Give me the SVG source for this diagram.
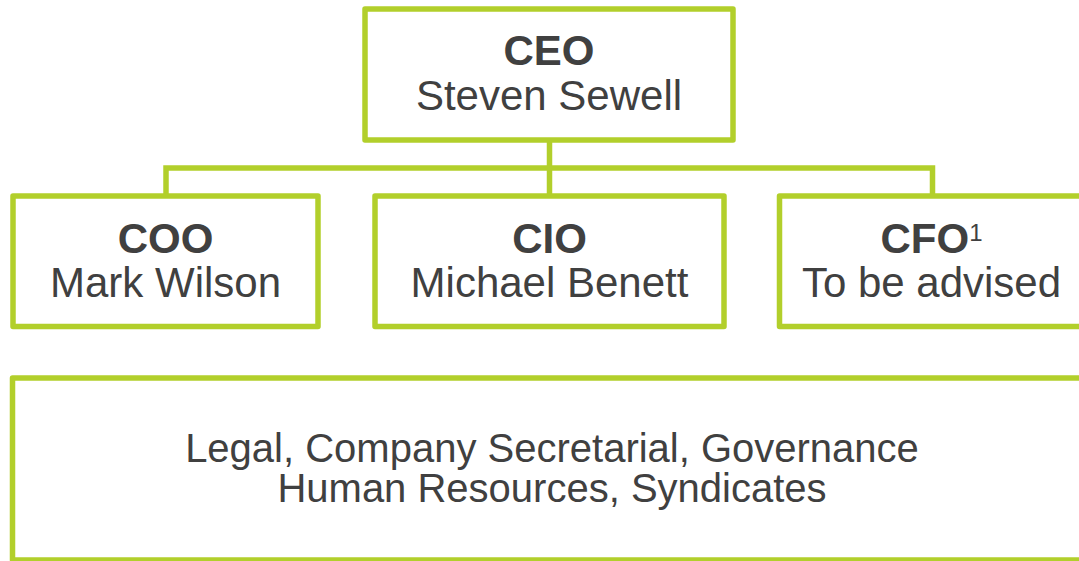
<svg xmlns="http://www.w3.org/2000/svg" width="1079" height="561" viewBox="0 0 1079 561">
  <style>
    .box { fill: #ffffff; stroke: #b2cf2b; stroke-width: 5.5; stroke-linejoin: round; }
    .link { fill: none; stroke: #b2cf2b; stroke-width: 5.5; }
    .t { font-family: "Liberation Sans", Arial, sans-serif; fill: #404040; text-anchor: middle; }
    .title { font-size: 42px; font-weight: bold; }
    .name { font-size: 42px; }
    .body { font-size: 40px; }
  </style>
  <rect width="1079" height="561" fill="#ffffff"/>

  <g id="connectors">
    <path class="link" d="M549.5 140 V196"/>
    <path class="link" d="M166 196 V168 H932.5 V196"/>
  </g>

  <g id="ceo">
    <rect class="box" x="365" y="9" width="368" height="131"/>
    <text class="t title" x="549" y="65">CEO</text>
    <text class="t name" x="549" y="110">Steven Sewell</text>
  </g>

  <g id="coo">
    <rect class="box" x="13" y="196" width="305" height="130.5"/>
    <text class="t title" x="165.5" y="253">COO</text>
    <text class="t name" x="165.5" y="297">Mark Wilson</text>
  </g>

  <g id="cio">
    <rect class="box" x="375" y="196" width="349" height="130.5"/>
    <text class="t title" x="549.5" y="253">CIO</text>
    <text class="t name" x="549.5" y="297">Michael Benett</text>
  </g>

  <g id="cfo">
    <rect class="box" x="779.5" y="196" width="306" height="130.5"/>
    <text class="t title" x="931.5" y="253">CFO<tspan font-size="24" font-weight="normal" dy="-12">1</tspan></text>
    <text class="t name" x="931.5" y="297">To be advised</text>
  </g>

  <g id="support">
    <rect class="box" x="12.5" y="378" width="1080" height="182"/>
    <text class="t body" x="552" y="462">Legal, Company Secretarial, Governance</text>
    <text class="t body" x="552" y="502">Human Resources, Syndicates</text>
  </g>
</svg>
